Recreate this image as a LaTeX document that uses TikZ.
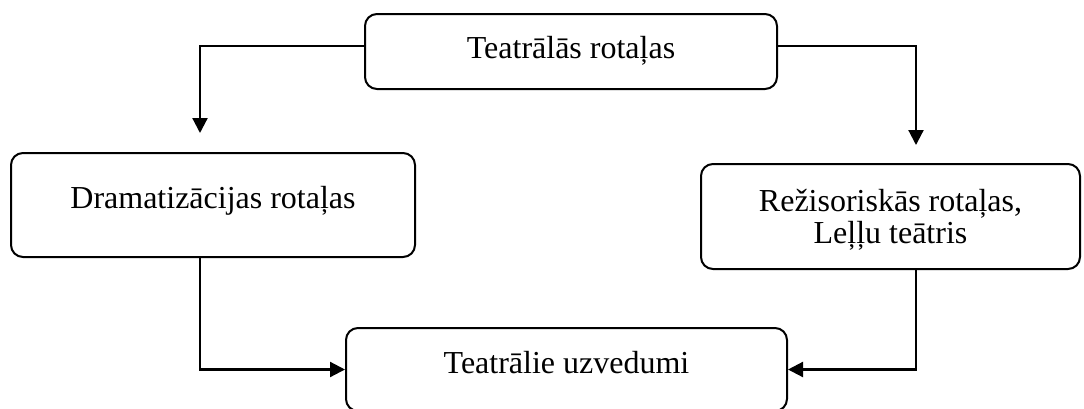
\documentclass[tikz,border=0pt]{standalone}
\usepackage{fontspec}
\setmainfont{Liberation Serif}
\usetikzlibrary{arrows.meta,calc}

\begin{document}
\begin{tikzpicture}[x=1pt,y=-1pt,
    box/.style={draw,line width=2pt,rounded corners=12pt,align=center,
      inner sep=0pt,text height=24pt,
      font=\fontsize{32}{32}\selectfont},
    link/.style={line width=2.2pt,-{Triangle[length=15pt,width=15pt]}}]
  \useasboundingbox (0,0) rectangle (1084,408);
  \node[box,minimum width=412pt,minimum height=75pt,text depth=11pt]
    (ttr) at (571,51.5) {Teatrālās rotaļas};
  \node[box,minimum width=404pt,minimum height=104pt,text depth=18pt]
    (dram) at (213,205) {Dramatizācijas rotaļas};
  \node[box,minimum width=379pt,minimum height=105pt,text height=60pt,text depth=7pt]
    (rez) at (890.5,216.5) {Režisoriskās rotaļas,\\ Leļļu teātris};
  \node[box,minimum width=441pt,minimum height=83pt,text depth=17pt]
    (uzv) at (566.5,369.5) {Teatrālie uzvedumi};
  \coordinate (lcol) at (200,133);
  \coordinate (rcol) at (916,145);
  \draw[link] ([yshift=5.5pt]ttr.west) -| (lcol);
  \draw[link] ([yshift=5.5pt]ttr.east) -| (rcol);
  \draw[link] (dram.south -| lcol) |- (uzv.west);
  \draw[link] (rez.south -| rcol) |- (uzv.east);
\end{tikzpicture}
\end{document}
